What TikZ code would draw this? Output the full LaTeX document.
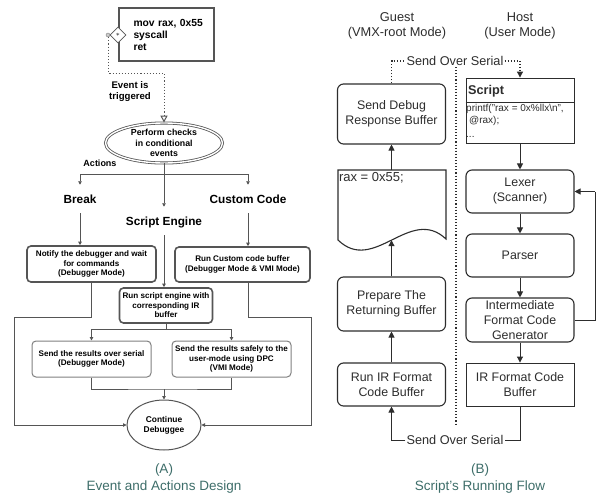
\documentclass[tikz,border=0pt]{standalone}
\usepackage{fontspec}
\setmainfont{Liberation Sans}
\usetikzlibrary{arrows.meta,shapes.geometric,calc}
\definecolor{capc}{RGB}{62,110,106}
\definecolor{lineg}{RGB}{85,85,85}
\definecolor{txtg}{RGB}{45,45,45}
\begin{document}
\begin{tikzpicture}[x=1pt,y=-1pt,
  lbox/.style={draw=lineg, line width=1.6pt, rounded corners=4pt, fill=white, align=center,
    font=\fontsize{8.1}{9.5}\selectfont\bfseries, inner sep=1pt},
  sbox/.style={draw=lineg!75, line width=1pt, rounded corners=4pt, fill=white, align=center,
    font=\fontsize{8.1}{9.5}\selectfont\bfseries, inner sep=1pt, minimum width=119pt, minimum height=36pt},
  act/.style={font=\fontsize{11.8}{12}\selectfont\bfseries, text height=8.5pt, text depth=0pt, inner ysep=9.8pt, inner xsep=2pt},
  conn/.style={draw=lineg, line width=0.9pt},
  arr/.style={conn, -{Triangle[length=3.5pt,width=3.5pt]}},
  rbox/.style={draw=txtg, line width=1.1pt, rounded corners=6pt, fill=white, align=center,
    font=\fontsize{12.4}{15}\selectfont, text=txtg, minimum width=108pt, inner sep=0pt},
  rconn/.style={draw=txtg, line width=1pt},
  rarr/.style={rconn, -{Triangle[length=6pt,width=6pt]}},
  rdot/.style={draw=txtg, line width=1.1pt, dotted},
  capt/.style={font=\fontsize{13.5}{14}\selectfont, text=capc},
  hdr/.style={font=\fontsize{12.8}{15}\selectfont, text=txtg, align=center},
  sos/.style={font=\fontsize{12.7}{13}\selectfont, text=txtg, fill=white, inner sep=1pt}
]
\useasboundingbox (0,0) rectangle (606,498);
\fill[white] (0,0) rectangle (606,498);

% ---------------- Panel A ----------------
\node[draw=lineg, line width=1.2pt, fill=white, minimum width=95pt, minimum height=53pt,
  text width=76pt, inner xsep=9.5pt, align=left, font=\fontsize{10.3}{12}\selectfont\bfseries] (code) at (166.5,34.5)
  {\hspace*{5pt}mov rax, 0x55\\\hspace*{5pt}syscall\\\hspace*{5pt}ret};
\node[circle, draw=gray, fill=gray!40, minimum size=4pt, inner sep=0pt] (trigdot) at (108,35) {};
\node[diamond, draw=lineg, fill=white, line width=0.8pt, minimum width=16pt, minimum height=16pt, inner sep=0pt] (trig) at (118,35) {};
\node[font=\fontsize{7}{7}\selectfont, inner sep=0pt] (trigstar) at (trig.center) {$\ast$};

\node[ellipse, draw=lineg, double=white, double distance=1.4pt, line width=0.8pt, minimum width=117pt, minimum height=40pt,
  inner sep=0pt, align=center, font=\fontsize{8.8}{10.5}\selectfont\bfseries] (perform) at (164,143)
  {Perform checks\\in conditional\\events};
\coordinate (evbend) at (108,73);
\draw[rdot, draw=lineg, line width=1pt, -{Triangle[open,length=7pt,width=7pt]}] (trigdot.south) -- (evbend) -| (perform.north);
\node[font=\fontsize{9.6}{11}\selectfont\bfseries, align=center] (evlbl) at (130,92) {Event is\\triggered};

\node[font=\fontsize{9}{9}\selectfont\bfseries] (actions) at (100,163) {Actions};
\coordinate (split) at (164,174);
\node[act] (breaklbl) at (80,199) {Break};
\node[act] (customlbl) at (248,199) {Custom Code};
\node[act] (scriptlbl) at (164,221) {Script Engine};
\draw[conn] (perform.south) -- (split);
\draw[arr] (split) -| (breaklbl.north);
\draw[arr] (split) -| (customlbl.north);
\draw[arr] (split) -- (scriptlbl.north);

\node[lbox, minimum width=129pt, minimum height=36pt] (notify) at (91.5,264)
  {Notify the debugger and wait\\for commands\\(Debugger Mode)};
\node[lbox, minimum width=135pt, minimum height=35pt] (custom) at (242.5,264.5)
  {Run Custom code buffer\\(Debugger Mode \& VMI Mode)};
\node[lbox, minimum width=93pt, minimum height=35pt] (scriptbox) at (166,305.5)
  {Run script engine with\\corresponding IR\\buffer};
\draw[arr] (breaklbl.south) -- (breaklbl.south |- notify.north);
\draw[arr] (customlbl.south) -- (customlbl.south |- custom.north);
\draw[arr] (scriptlbl.south) -- (scriptlbl.south |- scriptbox.north);

\node[sbox] (serial) at (91.5,359) {Send the results over serial\\(Debugger Mode)};
\node[sbox] (dpc) at (231.5,359) {Send the results safely to the\\user-mode using DPC\\(VMI Mode)};
\coordinate (sbsplit) at (166,329);
\draw[conn] (scriptbox.south) -- (sbsplit);
\draw[arr] (sbsplit) -| (serial.north);
\draw[arr] (sbsplit) -| (dpc.north);

\node[ellipse, draw=lineg, line width=1pt, fill=white, minimum width=74pt, minimum height=50pt, inner sep=0pt,
  align=center, font=\fontsize{8.4}{10}\selectfont\bfseries] (continue) at (164,425) {Continue\\Debuggee};
\coordinate (jn) at (164,389);
\draw[conn] (serial.south) |- (jn) -| (dpc.south);
\draw[arr] (jn) -- (continue.north);

\coordinate (lp) at (14,317);
\draw[arr] (notify.south) |- (lp) |- (continue.west);
\coordinate (rp) at (311,317);
\draw[arr] (customlbl.south |- custom.south) |- (rp) |- (continue.east);

\node[capt] (capA) at (164,470) {(A)};
\node[capt] (capAt) at (164,487) {Event and Actions Design};

% ---------------- Panel B ----------------
\node[hdr] (guest) at (397,25.5) {Guest\\(VMX-root Mode)};
\node[hdr] (host) at (520,25.5) {Host\\(User Mode)};

\coordinate (dvt) at (456,67);
\coordinate (dvb) at (456,424);
\draw[rdot, line width=1.3pt] (dvt) -- (dvb);

\node[rbox, minimum height=60pt] (senddbg) at (391.5,114) {Send Debug\\Response Buffer};
\node[minimum width=109pt, minimum height=70pt, inner sep=0pt] (doc) at (391.5,205) {};
\draw[draw=txtg, line width=1.1pt, fill=white] (338,240) -- (338,170) -- (446,170) -- (446,239)
  .. controls (410,205) and (374,275) .. (338,240) -- cycle;
\node[anchor=north west, font=\fontsize{13}{13}\selectfont, text=txtg, inner sep=2pt] (doctext) at (doc.north west) {rax = 0x55;};
\node[rbox, minimum height=54pt] (prepare) at (391.5,304) {Prepare The\\Returning Buffer};
\node[rbox, minimum height=43pt] (runir) at (391.5,384.5) {Run IR Format\\Code Buffer};
\draw[rarr] (doc.north) -- (senddbg.south);
\draw[rarr] (prepare.north) -- (doc.south);
\draw[rarr] (runir.north) -- (prepare.south);

\node[draw=txtg, line width=0.9pt, fill=white, minimum width=108pt, minimum height=65pt, inner sep=0pt] (script) at (520,110.5) {};
\node[anchor=west, font=\fontsize{12.7}{13}\selectfont\bfseries, text=txtg, inner sep=2pt] (scripthd) at (466,91.5) {Script};
\draw[draw=txtg, line width=0.8pt] ([yshift=-25pt]script.north west) -- ([yshift=-25pt]script.north east);
\node[anchor=north west, align=left, font=\fontsize{10}{12.5}\selectfont, text=txtg, inner sep=0.5pt] (scriptbody) at (465.5,103.5)
  {printf("rax = 0x\%llx\textbackslash n",\\\hspace*{3pt}@rax);\\[1pt]...};

\node[rbox, minimum height=43pt] (lexer) at (520,191.5) {Lexer\\(Scanner)};
\node[rbox, minimum height=43pt] (parser) at (520,255.5) {Parser};
\node[rbox, minimum height=44pt] (inter) at (520,320) {Intermediate\\Format Code\\Generator};
\node[rbox, rounded corners=0pt, line width=0.9pt, minimum height=43pt] (irbuf) at (520,384.5) {IR Format Code\\Buffer};
\draw[rarr] (script.south) -- (lexer.north);
\draw[rarr] (lexer.south) -- (parser.north);
\draw[rarr] (parser.south) -- (inter.north);
\draw[rarr] (inter.south) -- (irbuf.north);
\coordinate (fb) at (595,191.5);
\draw[rconn] (inter.east) -| (fb);
\draw[rarr] (fb) -- (lexer.east);

\node[sos] (sostop) at (455,61) {Send Over Serial};
\draw[rdot] (senddbg.north) |- (sostop.west);
\draw[rdot, -{Triangle[length=6pt,width=6pt]}] (sostop.east) -| (script.north);

\node[sos] (sosbot) at (455,440) {Send Over Serial};
\draw[rconn] (irbuf.south) |- (sosbot.east);
\draw[rarr] (sosbot.west) -| (runir.south);

\node[capt] (capB) at (480,470) {(B)};
\node[capt] (capBt) at (480,487) {Script’s Running Flow};
\end{tikzpicture}
\end{document}
